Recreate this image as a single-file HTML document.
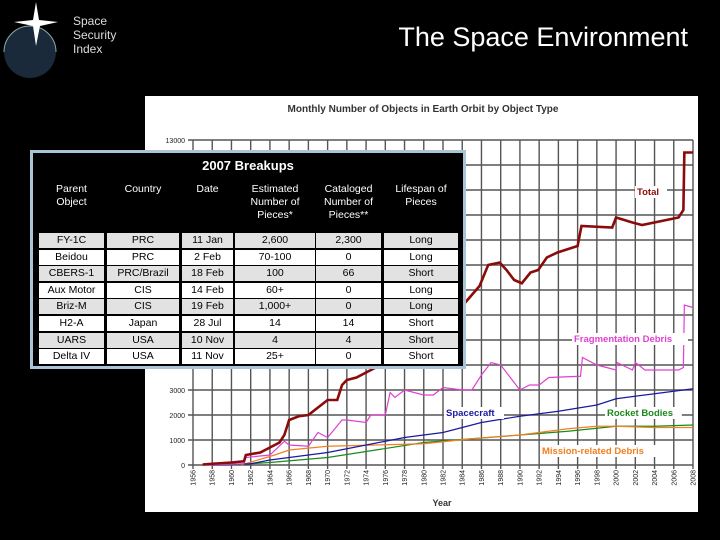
<!DOCTYPE html>
<html><head><meta charset="utf-8"><style>
body{margin:0;width:720px;height:540px;background:#000;overflow:hidden;position:relative;font-family:"Liberation Sans",sans-serif}
#tbl{position:absolute;left:30px;top:150px;width:430px;height:213px;border:3px solid #a9c4d4;background:#000;color:#fff}
#tbl .c{position:absolute;text-align:center;font-size:10.5px;line-height:13px;color:#000;box-sizing:border-box;height:15px;line-height:15px}
#tbl .h{position:absolute;text-align:center;font-size:10.5px;line-height:13px;color:#fff}
</style></head><body>
<svg width="720" height="540" style="position:absolute;left:0;top:0">
<g>
<circle cx="30" cy="52" r="26" fill="#1a2a3a"/>
<path d="M4 52 A26 26 0 0 1 56 52" fill="none" stroke="#8aa" stroke-width="1"/>
<polygon points="36,2 39,20 58,22 40,26 36,46 33,26 14,22 33,20" fill="#fff"/>
</g>
<text x="73" y="25" fill="#ddd" font-size="12">Space</text>
<text x="73" y="39" fill="#ddd" font-size="12">Security</text>
<text x="73" y="53" fill="#ddd" font-size="12">Index</text>
<text x="688" y="46" fill="#fff" font-size="27" text-anchor="end">The Space Environment</text>
<rect x="145" y="96" width="553" height="416" fill="#fff"/>
<text x="423" y="112" font-size="10" font-weight="bold" fill="#333" text-anchor="middle">Monthly Number of Objects in Earth Orbit by Object Type</text>
<g id="chart"></g>
<text x="442" y="506" font-size="9" font-weight="bold" fill="#333" text-anchor="middle">Year</text>
</svg>
<div id="tbl"></div>
<script>
const NS="http://www.w3.org/2000/svg";
const yearsTotal=[1957,1958,1960,1961.3,1961.5,1963,1964,1965,1965.5,1966,1967,1968,1969,1970,1971,1971.5,1972,1973,1974,1975,1976,1978,1980,1982,1984,1985.8,1986.7,1987.9,1988.6,1989.4,1990.2,1991.1,1991.9,1992.8,1993.9,1996,1996.4,1999.6,2000,2001.7,2002.7,2006.5,2007,2007.1,2008];
const valuesTotal=[0.02,0.05,0.1,0.15,0.4,0.5,0.7,0.9,1.2,1.8,1.95,2.0,2.3,2.6,2.6,3.2,3.4,3.5,3.7,3.9,4.2,4.7,5.2,5.8,6.36,7.16,8.0,8.1,7.8,7.4,7.27,7.7,7.8,8.3,8.5,8.76,9.56,9.5,9.9,9.7,9.6,9.9,10.2,12.5,12.5];
const yearsFrag=[1957,1961.3,1961.5,1964,1965.5,1966,1968,1969,1970,1971.5,1972,1974,1974.5,1976,1976.5,1977,1978,1980,1981,1982,1984,1985,1986,1987,1988,1989,1990,1991,1992,1993,1996.3,1996.5,1998,2000,2000.1,2001.7,2002,2003,2006.5,2007,2007.1,2008];
const valuesFrag=[0,0.05,0.3,0.4,0.95,0.8,0.75,1.3,1.1,1.8,1.8,1.7,2.0,2.0,2.9,2.7,3.0,2.8,2.8,3.1,3.0,3.0,3.6,4.1,4.0,3.5,3.0,3.2,3.2,3.5,3.55,4.3,4.0,3.8,4.1,3.8,4.1,3.8,3.8,3.9,6.4,6.3];
const yearsSC=[1958,1962,1964,1966,1970,1974,1978,1982,1986,1990,1994,1998,2000,2004,2008];
const valuesSC=[0,0.05,0.2,0.3,0.5,0.8,1.1,1.3,1.7,1.95,2.15,2.4,2.65,2.85,3.05];
const yearsRB=[1960,1964,1970,1975,1980,1985,1990,1995,2000,2004,2008];
const valuesRB=[0,0.1,0.3,0.6,0.9,1.05,1.2,1.35,1.55,1.55,1.6];
const yearsMD=[1961,1964.5,1966,1970,1975,1980,1985,1990,1995,1998,2000,2004,2008];
const valuesMD=[0,0.4,0.6,0.75,0.8,0.85,1.05,1.2,1.45,1.55,1.55,1.5,1.5];
const yTicks=[0,1000,2000,3000,4000,5000,6000,7000,8000,9000,10000,11000,12000,13000];
const xTicks=[1956,1958,1960,1962,1964,1966,1968,1970,1972,1974,1976,1978,1980,1982,1984,1986,1988,1990,1992,1994,1996,1998,2000,2002,2004,2006,2008];
const X=y=>193+(y-1956)*500/52, Y=v=>465-v*25/1000;
const g=document.getElementById('chart');
function mk(t,a){const e=document.createElementNS(NS,t);for(const k in a)e.setAttribute(k,a[k]);g.appendChild(e);return e;}
yTicks.forEach(v=>{
 const l=mk('line',{x1:188,x2:693,y1:Y(v),y2:Y(v),stroke:'#555','stroke-width':1.4});
 
 
 const t=mk('text',{x:185,y:Y(v)+3,'font-size':7,'text-anchor':'end',fill:'#222'});t.textContent=v;
 
 
});
xTicks.forEach(yr=>{
 const l=mk('line',{x1:X(yr),x2:X(yr),y1:Y(13000),y2:Y(0)+4,stroke:'#555','stroke-width':1.4});
 
 
 const t=mk('text',{x:0,y:0,'font-size':7,'text-anchor':'end',fill:'#222',transform:`translate(${X(yr)+2.5},470) rotate(-90)`});t.textContent=yr;
 
 
});
function series(xs,vs,c,w,name){
 const p=mk('polyline',{points:xs.map((x,i)=>X(x)+','+Y(vs[i]*1000)).join(' '),fill:'none',stroke:c,'stroke-width':w});
 
 
}
series(yearsRB,valuesRB,'#1a8a1a',1.2,'rocket-bodies-line');
series(yearsMD,valuesMD,'#f08020',1.2,'mission-debris-line');
series(yearsSC,valuesSC,'#1a1aa0',1.2,'spacecraft-line');
series(yearsFrag,valuesFrag,'#e040d0',1.2,'fragmentation-debris-line');
series(yearsTotal,valuesTotal,'#8b0a0a',2.6,'total-line');
function lab(x,y,txt,c,name){
 const w=txt.length*5.6;
 const r=mk('rect',{x:x-2,y:y-9,width:w+4,height:12,fill:'#fff'});
 
 
 const t=mk('text',{x:x,y:y,'font-size':9.5,'font-weight':'bold',fill:c});t.textContent=txt;
 
 
}
lab(637,195,'Total','#8b0a0a','legend-total');
lab(574,342,'Fragmentation Debris','#e040d0','legend-fragmentation');
lab(446,416,'Spacecraft','#1a1aa0','legend-spacecraft');
lab(607,416,'Rocket Bodies','#1a8a1a','legend-rocket-bodies');
lab(542,454,'Mission-related Debris','#f08020','legend-mission-debris');
const heads=['Parent<br>Object','Country','Date','Estimated<br>Number of<br>Pieces*','Cataloged<br>Number of<br>Pieces**','Lifespan of<br>Pieces'];
const rows=[['FY-1C','PRC','11 Jan','2,600','2,300','Long'],['Beidou','PRC','2 Feb','70-100','0','Long'],['CBERS-1','PRC/Brazil','18 Feb','100','66','Short'],['Aux Motor','CIS','14 Feb','60+','0','Long'],['Briz-M','CIS','19 Feb','1,000+','0','Long'],['H2-A','Japan','28 Jul','14','14','Short'],['UARS','USA','10 Nov','4','4','Short'],['Delta IV','USA','11 Nov','25+','0','Short']];
const cols=[[6,71],[74,146],[149,200],[202,282],[283,348],[351,425]];
const tb=document.getElementById('tbl');
let h='<div class="h" style="left:0;width:430px;top:6px;font-size:13px;font-weight:bold">2007 Breakups</div>';
heads.forEach((t,i)=>h+=`<div class="h" style="left:${cols[i][0]}px;width:${cols[i][1]-cols[i][0]}px;top:30px">${t}</div>`);
rows.forEach((r,j)=>r.forEach((t,i)=>h+=`<div class="c" style="left:${cols[i][0]}px;width:${cols[i][1]-cols[i][0]}px;top:${80+j*16.6}px;background:${j%2?'#fff':'#e2e2e2'}">${t}</div>`));
tb.innerHTML=h;
</script>
</body></html>
